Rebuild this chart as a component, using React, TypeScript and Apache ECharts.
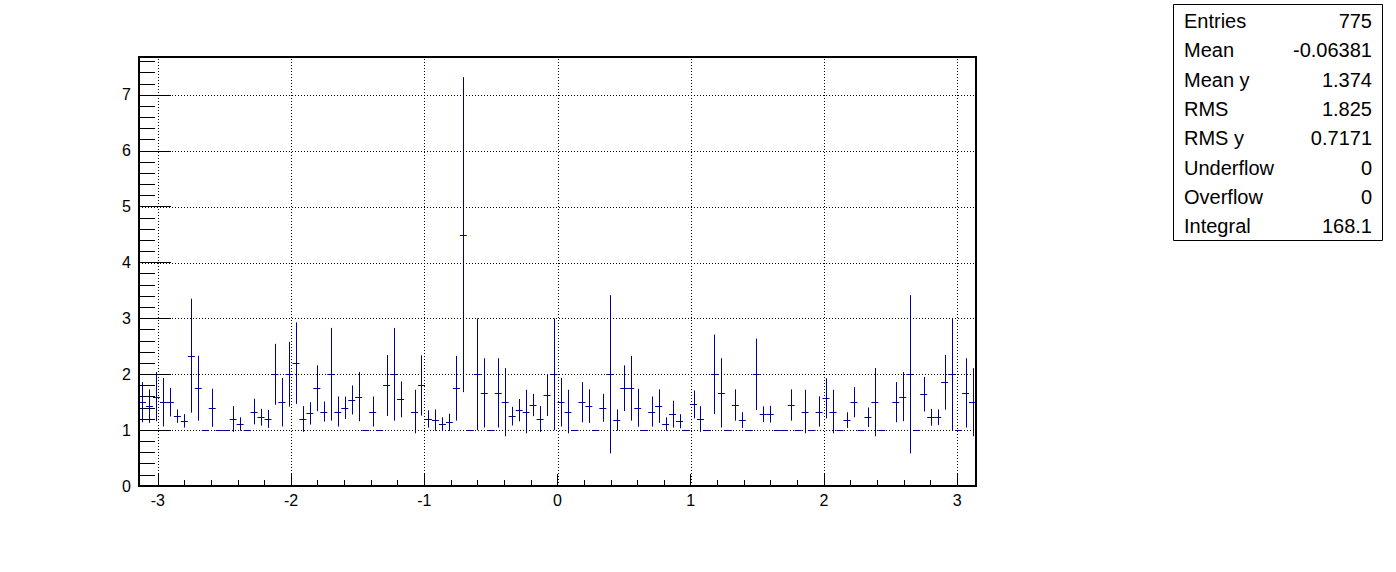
import React, { useEffect, useRef } from "react";
import * as echarts from "echarts";

// ---------- data ----------
const BIN_COUNT = 120;
const X_MIN = -Math.PI;
const X_MAX = Math.PI;
const Y_MIN = 0;
const Y_MAX = 7.68;

// profile bin means (null = empty bin)
const binMeans: (number | null)[] = [
  1.5, 1.43, 1.6, 1.5, 1.5, 1.25, 1.167, 2.333, 1.75, 1.0,
  1.4, 1.0, 1.0, 1.2, 1.11, 1.0, 1.333, 1.23, 1.2, 2.0,
  1.5, 2.0, 2.2, 1.2, 1.3, 1.75, 1.333, 2.0, 1.333, 1.4,
  1.54, 1.6, 1.0, 1.333, 1.0, 1.8, 2.0, 1.55, null, 1.333,
  1.8, 1.2, 1.18, 1.11, 1.14, 1.75, 4.5, 1.0, 2.0, 1.667,
  1.0, 1.667, 1.5, 1.25, 1.357, 1.333, 1.45, 1.2, 1.625, 2.0,
  1.5, 1.333, 1.0, 1.5, 1.43, 1.0, 1.4, 2.0, 1.18, 1.75,
  1.75, 1.4, 1.0, 1.333, 1.43, 1.11, 1.286, 1.16, 1.0, 1.46,
  1.2, 1.0, 2.0, 1.667, 1.0, 1.45, 1.18, 1.0, 2.0, 1.286,
  1.286, 1.0, 1.0, 1.45, 1.0, 1.333, 1.0, 1.333, 1.57, 1.333,
  1.0, 1.18, 1.5, 1.0, 1.23, 1.5, 1.0, null, 1.5, 1.6,
  2.0, 1.0, 1.643, 1.23, 1.23, 1.857, 2.0, 1.0, 1.667, 1.5,
];

// profile bin errors
const binErrors: (number | null)[] = [
  0.36, 0.3, 0.44, 0.435, 0.256, 0.12, 0.12, 1.02, 0.58, 0,
  0.34, 0, 0, 0.23, 0.12, 0, 0.23, 0.15, 0.16, 0.545,
  0.435, 0.58, 0.73, 0.23, 0.2, 0.41, 0.18, 0.83, 0.27, 0.2,
  0.26, 0.44, 0, 0.27, 0, 0.545, 0.83, 0.32, null, 0.39,
  0.54, 0.155, 0.19, 0.12, 0.155, 0.58, 2.82, 0, 1.0, 0.62,
  0, 0.62, 0.61, 0.167, 0.2, 0.39, 0.2, 0.23, 0.37, 1.0,
  0.435, 0.39, 0, 0.36, 0.3, 0, 0.25, 1.417, 0.19, 0.41,
  0.58, 0.34, 0, 0.27, 0.3, 0.12, 0.24, 0.125, 0, 0.25,
  0.23, 0, 0.71, 0.62, 0, 0.28, 0.14, 0, 0.64, 0.14,
  0.15, 0, 0, 0.28, 0, 0.39, 0, 0.27, 0.36, 0.39,
  0, 0.14, 0.27, 0, 0.175, 0.61, 0, null, 0.36, 0.44,
  1.417, 0, 0.31, 0.15, 0.14, 0.49, 1.0, 0, 0.62, 0.61,
];

const xMajorTicks = [-3, -2, -1, 0, 1, 2, 3];
const yMajorTicks = [0, 1, 2, 3, 4, 5, 6, 7];
const xGridLines = [-3, -2, -1, 0, 1, 2, 3];
const yGridLines = [1, 2, 3, 4, 5, 6, 7];

const statsLabels = ["Entries", "Mean", "Mean y", "RMS", "RMS y", "Underflow", "Overflow", "Integral"];
const statsValues = ["775", "-0.06381", "1.374", "1.825", "0.7171", "0", "0", "168.1"];

// ---------- helpers ----------
const FONT = "'Liberation Sans', Arial, Helvetica, sans-serif";
const BIN_W = (X_MAX - X_MIN) / BIN_COUNT;
const LINE_COLOR = "#000099";

const xMinorTicks: number[] = [];
for (let k = -15; k <= 15; k++) xMinorTicks.push(Math.round(k * 0.2 * 10) / 10);
const yMinorTicks: number[] = [];
for (let k = 0; k <= 38; k++) yMinorTicks.push(Math.round(k * 0.2 * 10) / 10);

export default function App() {
  const ref = useRef<HTMLDivElement>(null);

  useEffect(() => {
    if (!ref.current) return;
    const chart = echarts.init(ref.current, undefined, { renderer: "svg" });

    const profileData: number[][] = [];
    binMeans.forEach((m, i) => {
      const e = binErrors[i];
      if (m === null || e === null) return;
      profileData.push([X_MIN + (i + 0.5) * BIN_W, m, e]);
    });

    const dotted = { stroke: "#000", lineWidth: 1, lineDash: [1, 2] };

    const option: any = {
      animation: false,
      backgroundColor: "#fff",
      grid: {
        left: 139,
        right: 1396 - 976,
        top: 57,
        bottom: 572 - 486,
        show: true,
        borderColor: "#000",
        borderWidth: 2,
        backgroundColor: "transparent",
      },
      xAxis: [
        {
          type: "value",
          min: X_MIN,
          max: X_MAX,
          axisLine: { show: false, onZero: false },
          splitLine: { show: false },
          axisTick: {
            show: true,
            inside: true,
            length: 12,
            customValues: xMajorTicks,
            lineStyle: { color: "#000", width: 1 },
          },
          axisLabel: {
            customValues: xMajorTicks,
            formatter: (v: number) => String(Math.round(v)),
            color: "#000",
            fontSize: 16,
            fontFamily: FONT,
            margin: 6,
          },
        },
        {
          type: "value",
          min: X_MIN,
          max: X_MAX,
          position: "bottom",
          axisLine: { show: false, onZero: false },
          splitLine: { show: false },
          axisTick: {
            show: true,
            inside: true,
            length: 6,
            customValues: xMinorTicks,
            lineStyle: { color: "#000", width: 1 },
          },
          axisLabel: { show: false },
        },
      ],
      yAxis: [
        {
          type: "value",
          min: Y_MIN,
          max: Y_MAX,
          position: "left",
          axisLine: { show: false, onZero: false },
          splitLine: { show: false },
          axisTick: {
            show: true,
            inside: true,
            length: 32,
            customValues: yMajorTicks,
            lineStyle: { color: "#000", width: 1 },
          },
          axisLabel: {
            customValues: yMajorTicks,
            formatter: (v: number) => String(Math.round(v)),
            color: "#000",
            fontSize: 16,
            fontFamily: FONT,
            margin: 8,
          },
        },
        {
          type: "value",
          min: Y_MIN,
          max: Y_MAX,
          position: "left",
          axisLine: { show: false, onZero: false },
          splitLine: { show: false },
          axisTick: {
            show: true,
            inside: true,
            length: 16,
            customValues: yMinorTicks,
            lineStyle: { color: "#000", width: 1 },
          },
          axisLabel: { show: false },
        },
      ],
      series: [
        {
          type: "custom",
          xAxisIndex: 0,
          yAxisIndex: 0,
          silent: true,
          z: 1,
          data: xGridLines.map((v) => [v]),
          renderItem: (_p: any, api: any) => {
            const v = api.value(0);
            const a = api.coord([v, Y_MIN]);
            const b = api.coord([v, Y_MAX]);
            const x = Math.round(a[0]) + 0.5;
            return { type: "line", shape: { x1: x, y1: a[1], x2: x, y2: b[1] }, style: dotted };
          },
        },
        {
          type: "custom",
          xAxisIndex: 0,
          yAxisIndex: 0,
          silent: true,
          z: 1,
          data: yGridLines.map((v) => [0, v]),
          renderItem: (_p: any, api: any) => {
            const v = api.value(1);
            const a = api.coord([X_MIN, v]);
            const b = api.coord([X_MAX, v]);
            const y = Math.round(a[1]) + 0.5;
            return { type: "line", shape: { x1: a[0], y1: y, x2: b[0], y2: y }, style: dotted };
          },
        },
        {
          type: "custom",
          xAxisIndex: 0,
          yAxisIndex: 0,
          silent: true,
          z: 3,
          data: profileData,
          renderItem: (_p: any, api: any) => {
            const x = api.value(0);
            const y = api.value(1);
            const e = api.value(2);
            const c = api.coord([x, y]);
            const t = api.coord([x, y + e]);
            const b = api.coord([x, Math.max(Y_MIN, y - e)]);
            const w = api.size([BIN_W, 0])[0];
            const cx = Math.round(c[0]) + 0.5;
            const cy = Math.round(c[1]) + 0.5;
            const style = { stroke: LINE_COLOR, lineWidth: 1 };
            const children: any[] = [
              { type: "line", shape: { x1: c[0] - w / 2, y1: cy, x2: c[0] + w / 2, y2: cy }, style },
            ];
            if (e > 0) {
              children.push({ type: "line", shape: { x1: cx, y1: t[1], x2: cx, y2: b[1] }, style });
            }
            return { type: "group", children };
          },
        },
      ],
      graphic: [
        {
          type: "rect",
          shape: { x: 1173.5, y: 4.5, width: 209, height: 236 },
          style: { fill: "#fff", stroke: "#000", lineWidth: 1 },
          z: 10,
        },
        ...statsLabels.map((s, k) => ({
          type: "text",
          x: 1184,
          y: 21 + k * 29.3,
          z: 11,
          style: {
            text: s,
            fill: "#000",
            fontSize: 20,
            fontFamily: FONT,
            textAlign: "left",
            textVerticalAlign: "middle",
          },
        })),
        ...statsValues.map((s, k) => ({
          type: "text",
          x: 1372,
          y: 21 + k * 29.3,
          z: 11,
          style: {
            text: s,
            fill: "#000",
            fontSize: 20,
            fontFamily: FONT,
            textAlign: "right",
            textVerticalAlign: "middle",
          },
        })),
      ],
    };

    chart.setOption(option);
    return () => chart.dispose();
  }, []);

  return (
    <div
      ref={ref}
      style={{ position: "fixed", left: 0, top: 0, width: 1396, height: 572, background: "#fff" }}
    />
  );
}
